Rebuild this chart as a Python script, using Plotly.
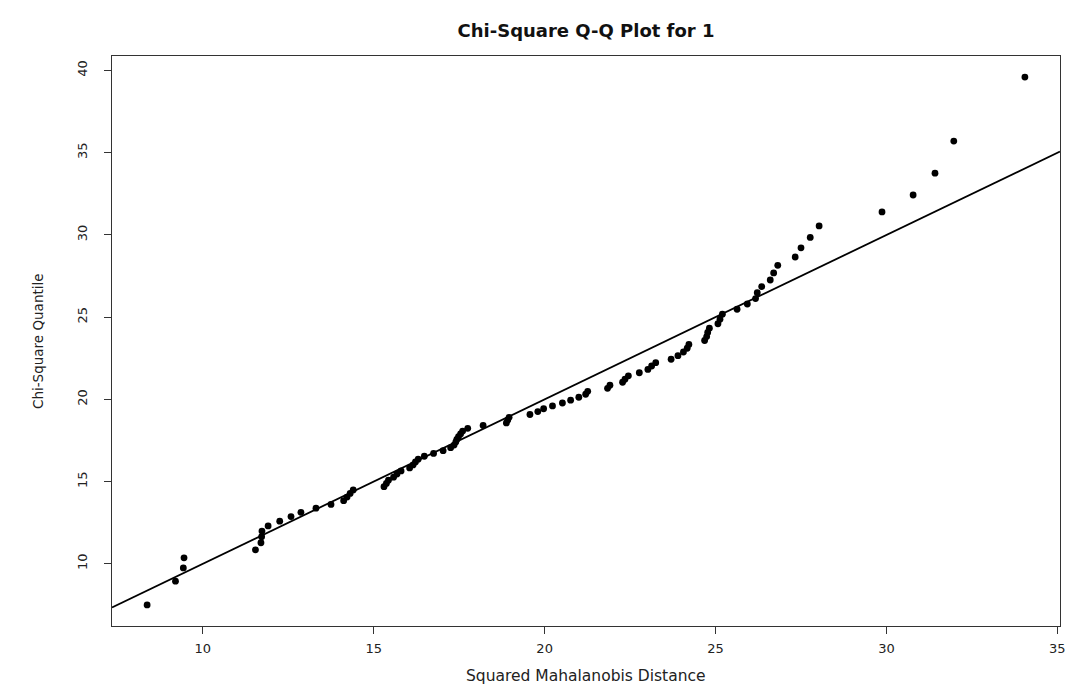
import plotly.graph_objects as go

# ---- data (sorted Q-Q pairs) ----
sq_mahalanobis = [
    8.37, 9.20, 9.43, 9.45, 11.54, 11.70, 11.72, 11.73, 11.91, 12.25,
    12.58, 12.87, 13.31, 13.75, 14.12, 14.22, 14.31, 14.40, 15.30, 15.37,
    15.43, 15.58, 15.68, 15.80, 16.05, 16.15, 16.22, 16.30, 16.48, 16.75,
    17.03, 17.25, 17.35, 17.40, 17.43, 17.48, 17.54, 17.60, 17.75, 18.20,
    18.88, 18.92, 18.96, 19.57, 19.80, 19.97, 20.23, 20.52, 20.76, 21.00,
    21.20, 21.26, 21.84, 21.91, 22.28, 22.35, 22.45, 22.77, 23.02, 23.13,
    23.25, 23.70, 23.90, 24.06, 24.17, 24.22, 24.68, 24.74, 24.77, 24.82,
    25.07, 25.13, 25.20, 25.63, 25.93, 26.17, 26.22, 26.35, 26.60, 26.70,
    26.82, 27.33, 27.50, 27.77, 28.03, 29.87, 30.78, 31.42, 31.97, 34.05,
]
chisq_quantile = [
    7.50, 8.94, 9.75, 10.36, 10.85, 11.28, 11.65, 11.99, 12.30, 12.59,
    12.87, 13.13, 13.38, 13.61, 13.84, 14.06, 14.28, 14.49, 14.69, 14.89,
    15.08, 15.27, 15.46, 15.65, 15.83, 16.01, 16.19, 16.36, 16.54, 16.71,
    16.88, 17.06, 17.22, 17.40, 17.56, 17.73, 17.90, 18.07, 18.24, 18.41,
    18.57, 18.74, 18.91, 19.08, 19.26, 19.43, 19.60, 19.78, 19.95, 20.13,
    20.31, 20.49, 20.67, 20.86, 21.04, 21.23, 21.43, 21.62, 21.82, 22.03,
    22.23, 22.44, 22.66, 22.88, 23.11, 23.34, 23.58, 23.82, 24.07, 24.33,
    24.60, 24.88, 25.18, 25.48, 25.80, 26.13, 26.49, 26.86, 27.26, 27.69,
    28.15, 28.66, 29.22, 29.85, 30.55, 31.40, 32.43, 33.76, 35.71, 39.60,
]
x_ticks = [10, 15, 20, 25, 30, 35]
y_ticks = [10, 15, 20, 25, 30, 35, 40]
ref_intercept = 0.0
ref_slope = 1.0

title_text = "Chi-Square Q-Q Plot for 1"
x_title = "Squared Mahalanobis Distance"
y_title = "Chi-Square Quantile"


def r_range(v):
    lo, hi = min(v), max(v)
    pad = 0.04 * (hi - lo)
    return [lo - pad, hi + pad]


xr = r_range(sq_mahalanobis)
yr = r_range(chisq_quantile)

W, H = 1087, 686
L, R, T, B = 104, 35, 48, 68
plot_h = H - T - B
plot_w = W - L - R

fig = go.Figure()

# abline(0, 1) across the plotting region
line_x = [xr[0], xr[1]]
line_y = [ref_intercept + ref_slope * v for v in line_x]
fig.add_trace(go.Scatter(
    x=line_x, y=line_y, mode="lines",
    line=dict(color="black", width=1.8),
    hoverinfo="skip", showlegend=False,
))

fig.add_trace(go.Scatter(
    x=sq_mahalanobis, y=chisq_quantile, mode="markers",
    marker=dict(color="black", size=6.8, symbol="circle",
                line=dict(width=0)),
    showlegend=False,
))

font_family = "DejaVu Sans, Liberation Sans, Arial, sans-serif"
ax_common = dict(
    showgrid=False, zeroline=False,
    showline=True, linecolor="#333", linewidth=1.2, mirror=True,
    ticks="outside", ticklen=7, tickwidth=1.1, tickcolor="#333",
    tickfont=dict(family=font_family, size=13, color="#222"),
)

fig.update_layout(
    width=W, height=H,
    margin=dict(l=L, r=R, t=T, b=B),
    paper_bgcolor="white", plot_bgcolor="white",
    title=dict(
        text="<b>" + title_text + "</b>",
        x=0.5, xref="paper", xanchor="center",
        y=1 - 23 / H, yref="container", yanchor="middle",
        font=dict(family=font_family, size=18, color="#111"),
    ),
    xaxis=dict(range=xr, tickmode="array", tickvals=x_ticks,
               ticklabelstandoff=3, **ax_common),
    yaxis=dict(range=yr, tickmode="array", tickvals=y_ticks,
               tickangle=-90, ticklabelstandoff=12, **ax_common),
    annotations=[
        dict(text=x_title, xref="paper", yref="paper",
             x=0.5, y=-(668 - (H - B)) / plot_h,
             xanchor="center", yanchor="middle", showarrow=False,
             font=dict(family=font_family, size=15.5, color="#222")),
        dict(text=y_title, xref="paper", yref="paper",
             x=(30 - L) / plot_w, y=0.5, textangle=-90,
             xanchor="center", yanchor="middle", showarrow=False,
             font=dict(family=font_family, size=13.5, color="#222")),
    ],
)

fig.write_html("out.html")
